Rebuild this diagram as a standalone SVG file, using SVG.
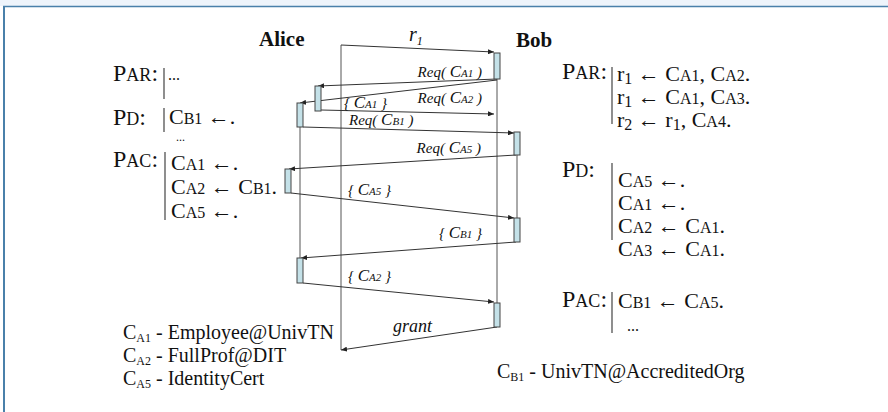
<svg xmlns="http://www.w3.org/2000/svg" width="888" height="412" viewBox="0 0 888 412">
  <style>
    .serif { font-family: "Liberation Serif", "Times New Roman", serif; fill: #111; }
    .pol { font-size: 22px; }
    .plab { font-size: 24px; }
    .sc { font-size: 16px; }
    .psc { font-size: 18px; }
    .head { font-size: 21px; font-weight: bold; }
    .msg { font-size: 15px; font-style: italic; }
    .mc { font-size: 17px; }
    .ms { font-size: 11px; }
    .leg { font-size: 20px; }
    .lsub { font-size: 12px; }
    .bar { stroke: #444; stroke-width: 1.2; fill: none; }
    .life { stroke: #555; stroke-width: 1; fill: none; }
    .arrow { stroke: #333; stroke-width: 1; fill: none; marker-end: url(#head); }
    .act { fill: #c4e1e8; stroke: #444; stroke-width: 1; }
  </style>
  <defs>
    <marker id="head" markerUnits="userSpaceOnUse" markerWidth="6" markerHeight="5" refX="6" refY="2.5" orient="auto">
      <path d="M0,0 L6,2.5 L0,5 z" fill="#222"/>
    </marker>
  </defs>

  <!-- page frame -->
  <rect x="0" y="0" width="888" height="6" fill="#eef4fb"/>
  <line x1="3" y1="6.5" x2="888" y2="6.5" stroke="#4a80aa" stroke-width="1.5"/>
  <line x1="4" y1="6" x2="4" y2="412" stroke="#4a80aa" stroke-width="2"/>

  <!-- participants -->
  <g id="alice-head"><text class="serif head" x="259" y="46">Alice</text></g>
  <g id="bob-head"><text class="serif head" x="516" y="47">Bob</text></g>

  <!-- lifelines and messages -->
  <g id="connectors">
    <line class="life" x1="341" y1="45" x2="341" y2="350"/>
    <line class="life" x1="497" y1="79" x2="497" y2="303"/>
    <line class="life" x1="517" y1="155" x2="517" y2="218"/>
    <line class="life" x1="300" y1="127" x2="300" y2="258"/>

    <line class="arrow" x1="341" y1="45" x2="494" y2="52"/>
    <line class="arrow" x1="497" y1="79" x2="318" y2="86"/>
    <line class="arrow" x1="497" y1="80" x2="300" y2="103"/>
    <line class="arrow" x1="321" y1="110" x2="494" y2="114"/>
    <line class="arrow" x1="303" y1="127" x2="514" y2="133"/>
    <line class="arrow" x1="516" y1="155" x2="289" y2="169"/>
    <line class="arrow" x1="291" y1="193" x2="514" y2="218"/>
    <line class="arrow" x1="516" y1="242" x2="301" y2="258"/>
    <line class="arrow" x1="303" y1="283" x2="494" y2="302"/>
    <line class="arrow" x1="497" y1="327" x2="341" y2="350"/>

    <!-- message labels -->
    <text class="serif msg" x="409" y="41"><tspan style="font-size:20px">r</tspan><tspan style="font-size:12px" dy="4">1</tspan></text>
    <text class="serif msg" x="482" y="77" text-anchor="end">Req( <tspan class="mc">C</tspan><tspan class="ms">A1</tspan> )</text>
    <text class="serif msg" x="482" y="103" text-anchor="end">Req( <tspan class="mc">C</tspan><tspan class="ms">A2</tspan> )</text>
    <text class="serif msg" x="344" y="108">{ <tspan class="mc">C</tspan><tspan class="ms">A1</tspan> }</text>
    <text class="serif msg" x="349" y="125">Req( <tspan class="mc">C</tspan><tspan class="ms">B1</tspan> )</text>
    <text class="serif msg" x="481" y="153" text-anchor="end">Req( <tspan class="mc">C</tspan><tspan class="ms">A5</tspan> )</text>
    <text class="serif msg" x="348" y="195">{ <tspan class="mc">C</tspan><tspan class="ms">A5</tspan> }</text>
    <text class="serif msg" x="482" y="238" text-anchor="end">{ <tspan class="mc">C</tspan><tspan class="ms">B1</tspan> }</text>
    <text class="serif msg" x="348" y="281">{ <tspan class="mc">C</tspan><tspan class="ms">A2</tspan> }</text>
    <text class="serif msg" x="393" y="332" style="font-size:18px">grant</text>
  </g>

  <!-- activation bars -->
  <g id="alice">
    <rect class="act" x="315" y="86" width="6" height="25"/>
    <rect class="act" x="297" y="103" width="6" height="24"/>
    <rect class="act" x="285" y="169" width="6" height="24"/>
    <rect class="act" x="297" y="258" width="6" height="25"/>
  </g>
  <g id="bob">
    <rect class="act" x="494" y="53" width="6" height="26"/>
    <rect class="act" x="514" y="132" width="6" height="23"/>
    <rect class="act" x="514" y="218" width="6" height="24"/>
    <rect class="act" x="494" y="303" width="6" height="24"/>
  </g>

  <!-- Alice's policies -->
  <g id="alice-policies" class="serif pol">
    <text class="plab" x="113" y="81">P<tspan class="psc">AR</tspan>:</text>
    <line class="bar" x1="164" y1="68" x2="164" y2="99"/>
    <text x="168" y="80" style="font-size:16px">...</text>

    <text class="plab" x="113" y="125">P<tspan class="psc">D</tspan>:</text>
    <line class="bar" x1="164" y1="108" x2="164" y2="132"/>
    <text x="169" y="124">C<tspan class="sc">B1</tspan> ←.</text>
    <text x="176" y="141" style="font-size:12px">...</text>

    <text class="plab" x="113" y="167">P<tspan class="psc">AC</tspan>:</text>
    <line class="bar" x1="165" y1="152" x2="165" y2="220"/>
    <text x="171" y="170">C<tspan class="sc">A1</tspan> ←.</text>
    <text x="171" y="194">C<tspan class="sc">A2</tspan> ← C<tspan class="sc">B1</tspan>.</text>
    <text x="171" y="218">C<tspan class="sc">A5</tspan> ←.</text>
  </g>

  <!-- Bob's policies -->
  <g id="bob-policies" class="serif pol">
    <text class="plab" x="562" y="79">P<tspan class="psc">AR</tspan>:</text>
    <line class="bar" x1="612" y1="67" x2="612" y2="124"/>
    <text x="617" y="81">r<tspan class="sc" dy="3">1</tspan><tspan dy="-3"> ← C</tspan><tspan class="sc">A1</tspan>, C<tspan class="sc">A2</tspan>.</text>
    <text x="617" y="104">r<tspan class="sc" dy="3">1</tspan><tspan dy="-3"> ← C</tspan><tspan class="sc">A1</tspan>, C<tspan class="sc">A3</tspan>.</text>
    <text x="617" y="127">r<tspan class="sc" dy="3">2</tspan><tspan dy="-3"> ← r</tspan><tspan class="sc" dy="3">1</tspan><tspan dy="-3">, C</tspan><tspan class="sc">A4</tspan>.</text>

    <text class="plab" x="562" y="177">P<tspan class="psc">D</tspan>:</text>
    <line class="bar" x1="612" y1="163" x2="612" y2="240"/>
    <text x="618" y="187">C<tspan class="sc">A5</tspan> ←.</text>
    <text x="618" y="210">C<tspan class="sc">A1</tspan> ←.</text>
    <text x="618" y="233">C<tspan class="sc">A2</tspan> ← C<tspan class="sc">A1</tspan>.</text>
    <text x="618" y="256">C<tspan class="sc">A3</tspan> ← C<tspan class="sc">A1</tspan>.</text>

    <text class="plab" x="562" y="307">P<tspan class="psc">AC</tspan>:</text>
    <line class="bar" x1="612" y1="292" x2="612" y2="333"/>
    <text x="618" y="308">C<tspan class="sc">B1</tspan> ← C<tspan class="sc">A5</tspan>.</text>
    <text x="627" y="331" style="font-size:16px">...</text>
  </g>

  <!-- credential legends -->
  <g id="alice-legend" class="serif leg">
    <text x="123" y="339">C<tspan class="lsub" dy="3">A1</tspan><tspan dy="-3"> - Employee@UnivTN</tspan></text>
    <text x="123" y="362">C<tspan class="lsub" dy="3">A2</tspan><tspan dy="-3"> - FullProf@DIT</tspan></text>
    <text x="123" y="385">C<tspan class="lsub" dy="3">A5</tspan><tspan dy="-3"> - IdentityCert</tspan></text>
  </g>
  <g id="bob-legend" class="serif leg">
    <text x="497" y="378">C<tspan class="lsub" dy="3">B1</tspan><tspan dy="-3"> - UnivTN@AccreditedOrg</tspan></text>
  </g>
</svg>
